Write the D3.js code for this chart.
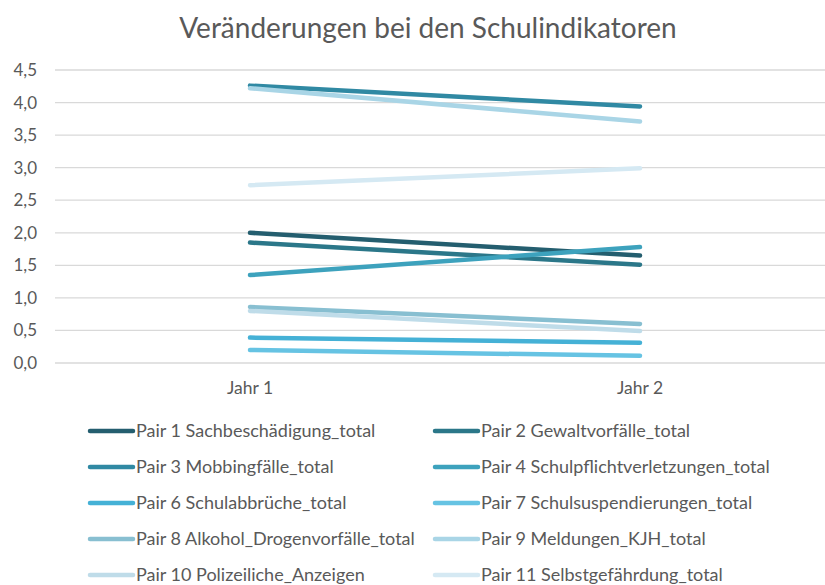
<!DOCTYPE html>
<html>
<head>
<meta charset="utf-8">
<script src="https://cdn.jsdelivr.net/npm/d3@7"></script>
<style>
  html, body { margin: 0; padding: 0; background: #fff; }
  svg { display: block; font-family: Lato, "Open Sans", sans-serif; }
</style>
</head>
<body>
<svg id="chart" width="825" height="585"></svg>
<script>
// Chart data
const title = "Veränderungen bei den Schulindikatoren";
const categories = ["Jahr 1", "Jahr 2"];
const seriesNames = [
  "Pair 1 Sachbeschädigung_total",
  "Pair 2 Gewaltvorfälle_total",
  "Pair 3 Mobbingfälle_total",
  "Pair 4 Schulpflichtverletzungen_total",
  "Pair 6 Schulabbrüche_total",
  "Pair 7 Schulsuspendierungen_total",
  "Pair 8 Alkohol_Drogenvorfälle_total",
  "Pair 9 Meldungen_KJH_total",
  "Pair 10 Polizeiliche_Anzeigen",
  "Pair 11 Selbstgefährdung_total"
];
const jahr1Values = [2.00, 1.85, 4.26, 1.35, 0.39, 0.20, 0.86, 4.22, 0.80, 2.73];
const jahr2Values = [1.65, 1.51, 3.94, 1.78, 0.31, 0.11, 0.60, 3.71, 0.49, 2.99];
const yTicks = [0, 0.5, 1, 1.5, 2, 2.5, 3, 3.5, 4, 4.5];
const seriesColors = [
  "#245e6f", "#2b7789", "#3089a3", "#3da2bd", "#45b1d6",
  "#66c3e3", "#88bfd1", "#a9d5e6", "#bfdce9", "#d5e9f3"
];

const svg = d3.select("#chart");
const margin = { left: 55, right: -10, top: 70, bottom: 222 };
const W = 825, H = 585;
const textColor = "#595959";

const x = d3.scalePoint()
  .domain(categories)
  .range([margin.left, W - margin.right])
  .padding(0.5);

const y = d3.scaleLinear()
  .domain([0, 4.5])
  .range([H - margin.bottom, margin.top]);

// Title
svg.append("text")
  .attr("x", 428)
  .attr("y", 38)
  .attr("text-anchor", "middle")
  .attr("fill", textColor)
  .attr("font-size", 28)
  .text(title);

// Horizontal gridlines
svg.append("g")
  .selectAll("line")
  .data(yTicks)
  .join("line")
  .attr("x1", margin.left)
  .attr("x2", W)
  .attr("y1", d => y(d))
  .attr("y2", d => y(d))
  .attr("stroke", "#d9d9d9")
  .attr("stroke-width", 1.3);

// Y axis labels
const fmt = d => d.toFixed(1).replace(".", ",");
svg.append("g")
  .selectAll("text")
  .data(yTicks)
  .join("text")
  .attr("x", 37)
  .attr("y", d => y(d))
  .attr("dy", "0.35em")
  .attr("text-anchor", "end")
  .attr("fill", textColor)
  .attr("font-size", 17)
  .text(fmt);

// X axis labels
svg.append("g")
  .selectAll("text")
  .data(categories)
  .join("text")
  .attr("x", d => x(d))
  .attr("y", 394)
  .attr("text-anchor", "middle")
  .attr("fill", textColor)
  .attr("font-size", 17.5)
  .text(d => d);

// Series lines
const series = seriesNames.map((name, i) => ({
  name,
  color: seriesColors[i],
  values: [
    { cat: categories[0], v: jahr1Values[i] },
    { cat: categories[1], v: jahr2Values[i] }
  ]
}));

const line = d3.line()
  .x(d => x(d.cat))
  .y(d => y(d.v));

svg.append("g")
  .selectAll("path")
  .data(series)
  .join("path")
  .attr("d", d => line(d.values))
  .attr("fill", "none")
  .attr("stroke", d => d.color)
  .attr("stroke-width", 4.5)
  .attr("stroke-linecap", "round");

// Legend, two columns
const legend = svg.append("g");
const colX = [88, 433];
const rowY = [431, 467, 503, 539, 575];
const items = legend.selectAll("g")
  .data(series)
  .join("g")
  .attr("transform", (d, i) => `translate(${colX[i % 2]},${rowY[Math.floor(i / 2)]})`);

items.append("line")
  .attr("x1", 2).attr("x2", 45)
  .attr("y1", 0).attr("y2", 0)
  .attr("stroke", d => d.color)
  .attr("stroke-width", 4.5)
  .attr("stroke-linecap", "round");

items.append("text")
  .attr("x", 48)
  .attr("y", 0)
  .attr("dy", "0.35em")
  .attr("fill", textColor)
  .attr("font-size", 18)
  .text(d => d.name);
</script>
</body>
</html>
